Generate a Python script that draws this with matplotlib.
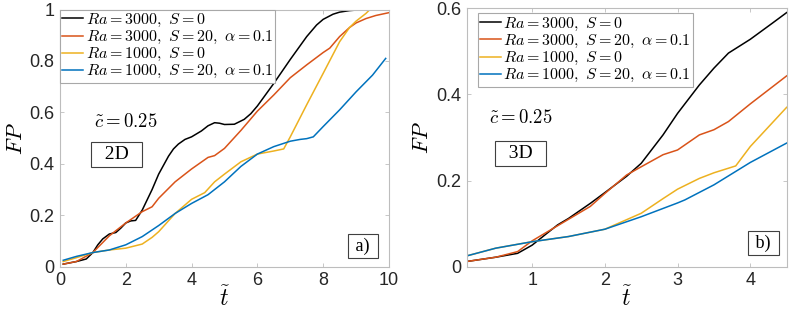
import matplotlib
matplotlib.use("Agg")
import matplotlib.pyplot as plt

plt.rcParams['mathtext.fontset'] = 'cm'
plt.rcParams['font.family'] = ['Liberation Sans', 'DejaVu Sans']

labels = [r'$Ra = 3000,\ S = 0$',
          r'$Ra = 3000,\ S = 20,\ \alpha = 0.1$',
          r'$Ra = 1000,\ S = 0$',
          r'$Ra = 1000,\ S = 20,\ \alpha = 0.1$']
colors = ['black', '#D95319', '#EDB120', '#0072BD']

# ---- 2D panel (a) ----
t2_black = [0.1, 0.5, 0.8, 1.0, 1.15, 1.3, 1.5, 1.7, 1.85, 2.0, 2.15, 2.3, 2.5, 2.65, 2.8, 3.0,
            3.15, 3.3, 3.45, 3.6, 3.8, 4.0, 4.3, 4.5, 4.7, 4.85, 5.0, 5.3, 5.6, 5.8, 6.0, 6.5,
            7.0, 7.5, 7.8, 8.0, 8.3, 8.5, 8.8, 9.0, 9.36]
fp2_black = [0.01, 0.02, 0.03, 0.055, 0.085, 0.108, 0.127, 0.133, 0.15, 0.17, 0.178, 0.18,
             0.22, 0.26, 0.30, 0.36, 0.395, 0.43, 0.458, 0.477, 0.495, 0.505, 0.528, 0.548,
             0.56, 0.558, 0.553, 0.554, 0.573, 0.595, 0.625, 0.713, 0.806, 0.895, 0.94, 0.962,
             0.982, 0.99, 0.996, 0.998, 1.0]

t2_red = [0.1, 0.5, 1.0, 1.5, 2.0, 2.5, 2.8, 3.0, 3.5, 4.0, 4.5, 4.7, 5.0, 5.5, 6.0, 6.5,
          7.0, 7.5, 8.0, 8.2, 8.5, 8.8, 9.0, 9.3, 9.6, 10.0]
fp2_red = [0.01, 0.02, 0.055, 0.12, 0.17, 0.214, 0.233, 0.266, 0.33, 0.38, 0.425, 0.432, 0.46,
           0.53, 0.605, 0.668, 0.735, 0.785, 0.833, 0.85, 0.895, 0.93, 0.948, 0.965, 0.977, 0.988]

t2_yellow = [0.1, 0.5, 1.0, 1.5, 2.0, 2.5, 2.8, 3.0, 3.5, 4.0, 4.4, 4.7, 5.0, 5.5, 6.0, 6.5,
             6.8, 7.0, 7.5, 8.0, 8.5, 8.8, 9.0, 9.3, 9.42, 10.0]
fp2_yellow = [0.02, 0.035, 0.055, 0.065, 0.072, 0.088, 0.114, 0.136, 0.207, 0.262, 0.288, 0.33,
              0.36, 0.408, 0.438, 0.45, 0.458, 0.505, 0.63, 0.752, 0.875, 0.93, 0.955, 0.985,
              1.0, 1.0]

t2_blue = [0.1, 0.5, 1.0, 1.5, 2.0, 2.5, 3.0, 3.5, 4.0, 4.5, 5.0, 5.5, 6.0, 6.5, 7.0, 7.3,
           7.5, 7.7, 8.0, 8.5, 9.0, 9.5, 9.9]
fp2_blue = [0.025, 0.04, 0.055, 0.065, 0.085, 0.117, 0.16, 0.207, 0.246, 0.28, 0.33, 0.39,
            0.438, 0.467, 0.488, 0.495, 0.498, 0.505, 0.545, 0.61, 0.68, 0.745, 0.81]

# ---- 3D panel (b) ----
t3_black = [0.1, 0.5, 0.8, 1.0, 1.2, 1.35, 1.5, 1.8, 2.0, 2.3, 2.5, 2.8, 3.0, 3.3, 3.5, 3.7,
            4.0, 4.3, 4.5]
fp3_black = [0.012, 0.022, 0.031, 0.05, 0.077, 0.097, 0.112, 0.147, 0.172, 0.21, 0.24, 0.306,
             0.356, 0.422, 0.461, 0.496, 0.528, 0.565, 0.59]

t3_red = [0.1, 0.5, 0.8, 1.0, 1.2, 1.5, 1.8, 2.0, 2.3, 2.5, 2.8, 3.0, 3.3, 3.5, 3.7, 4.0, 4.5]
fp3_red = [0.012, 0.022, 0.035, 0.06, 0.08, 0.11, 0.14, 0.17, 0.213, 0.232, 0.26, 0.271, 0.306,
           0.318, 0.337, 0.378, 0.443]

t3_yellow = [0.1, 0.5, 1.0, 1.5, 2.0, 2.5, 2.8, 3.0, 3.3, 3.5, 3.8, 4.0, 4.5]
fp3_yellow = [0.025, 0.043, 0.058, 0.07, 0.087, 0.124, 0.158, 0.18, 0.205, 0.218, 0.234, 0.279,
              0.37]

t3_blue = [0.1, 0.5, 1.0, 1.5, 2.0, 2.5, 3.0, 3.1, 3.5, 4.0, 4.5]
fp3_blue = [0.025, 0.043, 0.058, 0.07, 0.087, 0.116, 0.148, 0.155, 0.19, 0.242, 0.287]

panels = [
    dict(series=[(t2_black, fp2_black), (t2_red, fp2_red), (t2_yellow, fp2_yellow), (t2_blue, fp2_blue)],
         xlim=(0, 10), ylim=(0, 1), xticks=[0, 2, 4, 6, 8, 10], yticks=[0, 0.2, 0.4, 0.6, 0.8, 1],
         yticklabels=['0', '0.2', '0.4', '0.6', '0.8', '1'], xticklabels=['0', '2', '4', '6', '8', '10'],
         pos=[0.076, 0.164, 0.417, 0.806], ctext=(2.0, 0.564), dim='2D', dimpos=(1.72, 0.436),
         tag='a)', tagpos=(9.2, 0.08), leganchor=(0.0, 1.0)),
    dict(series=[(t3_black, fp3_black), (t3_red, fp3_red), (t3_yellow, fp3_yellow), (t3_blue, fp3_blue)],
         xlim=(0.1, 4.5), ylim=(0, 0.6), xticks=[1, 2, 3, 4], yticks=[0, 0.2, 0.4, 0.6],
         yticklabels=['0', '0.2', '0.4', '0.6'], xticklabels=['1', '2', '3', '4'],
         pos=[0.5915, 0.164, 0.4055, 0.81], ctext=(0.85, 0.345), dim='3D', dimpos=(0.84, 0.263),
         tag='b)', tagpos=(4.18, 0.055), leganchor=(0.034, 0.98)),
]

fig = plt.figure(figsize=(7.89, 3.19), dpi=100)
for p in panels:
    ax = fig.add_axes(p['pos'])
    for (t, fp), c, lab in zip(p['series'], colors, labels):
        ax.plot(t, fp, color=c, lw=1.1, label=lab)
    ax.set_xlim(*p['xlim'])
    ax.set_ylim(*p['ylim'])
    ax.set_xticks(p['xticks'])
    ax.set_xticklabels(p['xticklabels'])
    ax.set_yticks(p['yticks'])
    ax.set_yticklabels(p['yticklabels'])
    ax.tick_params(direction='in', top=True, right=True, length=3, width=0.5,
                   color='#b0b0b0', labelsize=13, labelcolor='#262626', pad=4)
    for s in ax.spines.values():
        s.set_color('#bdbdbd')
        s.set_linewidth(0.8)
    ax.set_xlabel(r'$\tilde{t}$', fontsize=17, labelpad=-2)
    ax.set_ylabel(r'$FP$', fontsize=16, labelpad=2)
    leg = ax.legend(loc='upper left', bbox_to_anchor=p['leganchor'], fontsize=11.5,
                    handlelength=1.3, handletextpad=0.15, borderpad=0.15, labelspacing=0.0,
                    borderaxespad=0.0, fancybox=False, framealpha=1)
    leg.get_frame().set_edgecolor('#a8a8a8')
    leg.get_frame().set_linewidth(0.8)
    ax.text(*p['ctext'], r'$\tilde{c} = 0.25$', fontsize=13.5, ha='center', va='center')
    ax.text(*p['dimpos'], '  ' + p['dim'] + '  ', fontsize=14, ha='center', va='center',
            family='Liberation Serif',
            bbox=dict(boxstyle='square,pad=0.2', fc='white', ec='#404040', lw=0.8))
    ax.text(*p['tagpos'], ' ' + p['tag'] + ' ', fontsize=13, ha='center', va='center',
            family='Liberation Serif',
            bbox=dict(boxstyle='square,pad=0.2', fc='white', ec='#404040', lw=0.8))

fig.savefig('out.png', dpi=100)
